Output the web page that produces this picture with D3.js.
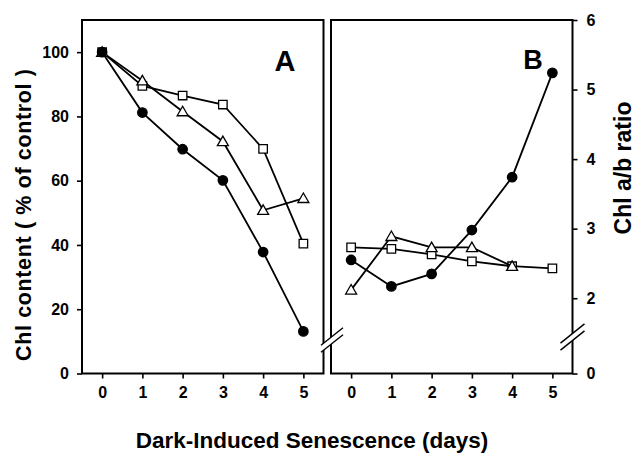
<!DOCTYPE html>
<html>
<head>
<meta charset="utf-8">
<script src="https://cdn.jsdelivr.net/npm/d3@7"></script>
<style>
  html,body{margin:0;padding:0;background:#fff;}
  svg{display:block;font-family:"Liberation Sans",Arial,sans-serif;font-weight:bold;}
</style>
</head>
<body>
<div id="chart"></div>
<script>
// days of dark-induced senescence
const days = [0, 1, 2, 3, 4, 5];

// panel A: Chl content (% of control)
const chlCircle   = [100, 81.2, 69.8, 60.1, 37.8, 13.1];
const chlSquare   = [100, 89.5, 86.5, 83.7, 69.9, 40.4];
const chlTriangle = [100, 91.1, 81.5, 72.2, 50.8, 54.5];

// panel B: Chl a/b ratio
const ratioCircle   = [2.55, 2.17, 2.35, 2.98, 3.74, 5.24];
const ratioSquare   = [2.73, 2.71, 2.63, 2.53, 2.46, 2.43];
const ratioTriangle = [2.12, 2.89, 2.73, 2.73, 2.46];

const ticksA = [0, 20, 40, 60, 80, 100];
const ticksB = [0, 2, 3, 4, 5, 6];

const W = 637, H = 454;
const svg = d3.select('#chart').append('svg').attr('width', W).attr('height', H);

const xA = d3.scaleLinear().domain([-0.5, 5.5]).range([82, 323.5]);
const xB = d3.scaleLinear().domain([-0.5, 5.5]).range([331, 572.5]);
const yA = d3.scaleLinear().domain([0, 110]).range([373.5, 20]);
// broken axis: 0 .. 1.5 squeezed below the break
const yB = d3.scaleLinear().domain([0, 1.5, 6]).range([373.5, 333, 20]);
const fmt = d3.format('d');

const toPts = (vals) => vals.map((v, i) => [days[i], v]);

function series(g, x, y, vals, shape){
  const pts = toPts(vals);
  g.append('path').datum(pts)
    .attr('fill', 'none').attr('stroke', '#000').attr('stroke-width', 1.8)
    .attr('d', d3.line().x(d => x(d[0])).y(d => y(d[1])));
  const sym = shape === 'circle' ? d3.symbolCircle
            : shape === 'square' ? d3.symbolSquare : d3.symbolTriangle;
  const size = shape === 'circle' ? 70 : shape === 'square' ? 72 : 52;
  g.selectAll(null).data(pts).join('path')
    .attr('transform', d => `translate(${x(d[0])},${y(d[1]) + (shape === 'triangle' ? 1 : 0)})`)
    .attr('d', d3.symbol(sym, size))
    .attr('fill', shape === 'circle' ? '#000' : '#fff')
    .attr('stroke', '#000').attr('stroke-width', 1.3);
}

function frame(x, y){
  const [x0, x1] = x.range();
  const [y0, y1] = [y.range()[0], y.range()[y.range().length - 1]];
  svg.append('rect')
    .attr('x', x0).attr('y', y1).attr('width', x1 - x0).attr('height', y0 - y1)
    .attr('fill', 'none').attr('stroke', '#000').attr('stroke-width', 2);
}

// --- panel A
const gA = svg.append('g');
frame(xA, yA);
svg.append('g').attr('transform', 'translate(0,373.5)')
  .call(d3.axisBottom(xA).tickValues(days).tickFormat(fmt).tickSize(5).tickPadding(8))
  .call(a => a.select('.domain').remove());
svg.append('g').attr('transform', 'translate(82,0)')
  .call(d3.axisLeft(yA).tickValues(ticksA).tickFormat(fmt).tickSize(5).tickPadding(8))
  .call(a => a.select('.domain').remove());
series(gA, xA, yA, chlSquare, 'square');
series(gA, xA, yA, chlTriangle, 'triangle');
series(gA, xA, yA, chlCircle, 'circle');

// --- panel B
const gB = svg.append('g');
frame(xB, yB);
svg.append('g').attr('transform', 'translate(0,373.5)')
  .call(d3.axisBottom(xB).tickValues(days).tickFormat(fmt).tickSize(5).tickPadding(8))
  .call(a => a.select('.domain').remove());
svg.append('g').attr('transform', 'translate(572.5,0)')
  .call(d3.axisRight(yB).tickValues(ticksB).tickFormat(fmt).tickSize(5).tickPadding(9))
  .call(a => a.select('.domain').remove());
series(gB, xB, yB, ratioSquare, 'square');
series(gB, xB, yB, ratioTriangle, 'triangle');
series(gB, xB, yB, ratioCircle, 'circle');

svg.selectAll('.tick text').attr('font-size', 16).attr('font-weight', 'bold')
  .attr('font-family', '"Liberation Sans",Arial,sans-serif').attr('fill', '#000');
svg.selectAll('.tick line').attr('stroke', '#000').attr('stroke-width', 1.6);

// break marks
function breakMark(cx, cy, w){
  const dx = w / 2, dy = w * 0.4;
  svg.append('polygon')
    .attr('points', [[cx - dx, cy + dy - 3.5], [cx + dx, cy - dy - 3.5], [cx + dx, cy - dy + 3.5], [cx - dx, cy + dy + 3.5]].join(' '))
    .attr('fill', '#fff');
  [-3.5, 3.5].forEach(o => {
    svg.append('line')
      .attr('x1', cx - dx).attr('y1', cy + dy + o)
      .attr('x2', cx + dx).attr('y2', cy - dy + o)
      .attr('stroke', '#000').attr('stroke-width', 1.4);
  });
}
breakMark(332, 340, 22);
breakMark(572.5, 337, 24);

// panel letters
svg.append('text').attr('x', 285).attr('y', 71).attr('text-anchor', 'middle')
  .attr('font-size', 29).text('A');
svg.append('text').attr('x', 533).attr('y', 69).attr('text-anchor', 'middle')
  .attr('font-size', 27).text('B');

// axis titles
svg.append('text').attr('transform', 'translate(31,215) rotate(-90)')
  .attr('text-anchor', 'middle').attr('font-size', 21.5)
  .attr('textLength', 292).attr('lengthAdjust', 'spacing')
  .text('Chl content  ( % of control )');
svg.append('text').attr('transform', 'translate(631,168) rotate(-90)')
  .attr('text-anchor', 'middle').attr('font-size', 23)
  .text('Chl a/b ratio');
svg.append('text').attr('x', 312).attr('y', 448).attr('text-anchor', 'middle')
  .attr('font-size', 22.5).text('Dark-Induced Senescence (days)');
</script>
</body>
</html>
